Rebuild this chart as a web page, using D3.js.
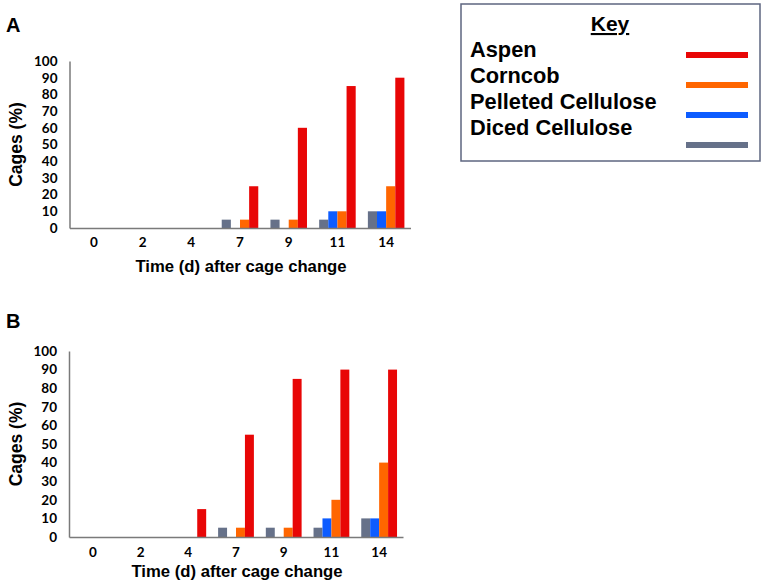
<!DOCTYPE html>
<html>
<head>
<meta charset="utf-8">
<script src="https://cdn.jsdelivr.net/npm/d3@7"></script>
<style>
  body { margin: 0; background: #fff; }
  svg { display: block; }
</style>
</head>
<body>
<div id="chart"></div>
<script>
// Data
var days = ['0', '2', '4', '7', '9', '11', '14']
var seriesNames = ['Diced Cellulose', 'Pelleted Cellulose', 'Corncob', 'Aspen']
var legendNames = ['Aspen', 'Corncob', 'Pelleted Cellulose', 'Diced Cellulose']
var yTicks = [0, 10, 20, 30, 40, 50, 60, 70, 80, 90, 100]

// Panel A
var dicedA = [0, 0, 0, 5, 5, 5, 10]
var pelletedA = [0, 0, 0, 0, 0, 10, 10]
var corncobA = [0, 0, 0, 5, 5, 10, 25]
var aspenA = [0, 0, 0, 25, 60, 85, 90]

// Panel B
var dicedB = [0, 0, 0, 5, 5, 5, 10]
var pelletedB = [0, 0, 0, 0, 0, 10, 10]
var corncobB = [0, 0, 0, 5, 5, 20, 40]
var aspenB = [0, 0, 15, 55, 85, 90, 90]

var colors = {
  'Aspen': '#e80606',
  'Corncob': '#ff6600',
  'Pelleted Cellulose': '#0d5cff',
  'Diced Cellulose': '#667189'
}

var width = 763
var height = 584
var sans = '"Liberation Sans", Arial, sans-serif'

var svg = d3.select('#chart').append('svg')
  .attr('width', width)
  .attr('height', height)

function drawPanel(opts, series) {
  var g = svg.append('g').attr('class', 'panel')

  var x0 = d3.scaleBand()
    .domain(days)
    .range([opts.left, opts.right])
    .paddingInner(0.25)
    .paddingOuter(0.125)

  var x1 = d3.scaleBand()
    .domain(seriesNames)
    .range([0, x0.bandwidth()])

  var y = d3.scaleLinear()
    .domain([0, 100])
    .range([opts.bottom, opts.top])

  // Bars
  var rows = days.map(function (d, i) {
    return {
      day: d,
      values: seriesNames.map(function (s) {
        return { key: s, value: series[s][i] }
      })
    }
  })

  g.selectAll('.group')
    .data(rows)
    .enter().append('g')
    .attr('class', 'group')
    .attr('transform', function (d) { return 'translate(' + x0(d.day) + ',0)' })
    .selectAll('rect')
    .data(function (d) { return d.values.filter(function (v) { return v.value > 0 }) })
    .enter().append('rect')
    .attr('x', function (d) { return x1(d.key) })
    .attr('width', x1.bandwidth())
    .attr('y', function (d) { return y(d.value) })
    .attr('height', function (d) { return y(0) - y(d.value) })
    .attr('fill', function (d) { return colors[d.key] })

  // Axes
  var xAxis = g.append('g')
    .attr('transform', 'translate(0,' + opts.bottom + ')')
    .call(d3.axisBottom(x0).tickSize(0).tickPadding(opts.xPad))
  xAxis.select('.domain').attr('stroke', '#7a7a7a').attr('stroke-width', 1.5)

  var yAxis = g.append('g')
    .attr('transform', 'translate(' + opts.left + ',0)')
    .call(d3.axisLeft(y).tickValues(yTicks).tickSize(0).tickPadding(12))
  yAxis.select('.domain').attr('stroke', '#7a7a7a').attr('stroke-width', 1.5)

  g.selectAll('.tick text')
    .attr('font-family', 'Lato, "Open Sans", sans-serif')
    .attr('font-weight', 'bold')
    .attr('font-size', 13.5)
    .attr('fill', '#000')

  // Labels
  g.append('text')
    .attr('x', 6)
    .attr('y', opts.letterY)
    .attr('font-family', sans)
    .attr('font-weight', 'bold')
    .attr('font-size', 20)
    .text(opts.letter)

  g.append('text')
    .attr('transform', 'translate(22,' + (opts.top + opts.bottom) / 2 + ') rotate(-90)')
    .attr('text-anchor', 'middle')
    .attr('font-family', sans)
    .attr('font-weight', 'bold')
    .attr('font-size', 17.5)
    .text('Cages (%)')

  g.append('text')
    .attr('x', (opts.left + opts.right) / 2 + 1)
    .attr('y', opts.titleY)
    .attr('text-anchor', 'middle')
    .attr('font-family', sans)
    .attr('font-weight', 'bold')
    .attr('font-size', 16.7)
    .text('Time (d) after cage change')
}

drawPanel(
  { left: 69.5, right: 410.5, top: 61, bottom: 228, xPad: 9, letter: 'A', letterY: 32, titleY: 272 },
  { 'Diced Cellulose': dicedA, 'Pelleted Cellulose': pelletedA, 'Corncob': corncobA, 'Aspen': aspenA }
)

drawPanel(
  { left: 69, right: 403, top: 351, bottom: 537, xPad: 10, letter: 'B', letterY: 328, titleY: 577 },
  { 'Diced Cellulose': dicedB, 'Pelleted Cellulose': pelletedB, 'Corncob': corncobB, 'Aspen': aspenB }
)

// Key
var key = svg.append('g').attr('class', 'key')

key.append('rect')
  .attr('x', 461)
  .attr('y', 4)
  .attr('width', 299)
  .attr('height', 157)
  .attr('fill', '#fff')
  .attr('stroke', '#5d6680')
  .attr('stroke-width', 1.5)

key.append('text')
  .attr('x', 610)
  .attr('y', 31)
  .attr('text-anchor', 'middle')
  .attr('font-family', sans)
  .attr('font-weight', 'bold')
  .attr('font-size', 21)
  .attr('text-decoration', 'underline')
  .text('Key')

key.selectAll('.key-label')
  .data(legendNames)
  .enter().append('text')
  .attr('class', 'key-label')
  .attr('x', 470)
  .attr('y', function (d, i) { return 57 + i * 26 })
  .attr('font-family', sans)
  .attr('font-weight', 'bold')
  .attr('font-size', 21.8)
  .text(function (d) { return d })

key.selectAll('.key-line')
  .data(legendNames)
  .enter().append('line')
  .attr('class', 'key-line')
  .attr('x1', 686)
  .attr('x2', 748)
  .attr('y1', function (d, i) { return 55 + i * 30 })
  .attr('y2', function (d, i) { return 55 + i * 30 })
  .attr('stroke', function (d) { return colors[d] })
  .attr('stroke-width', 6)
</script>
</body>
</html>
